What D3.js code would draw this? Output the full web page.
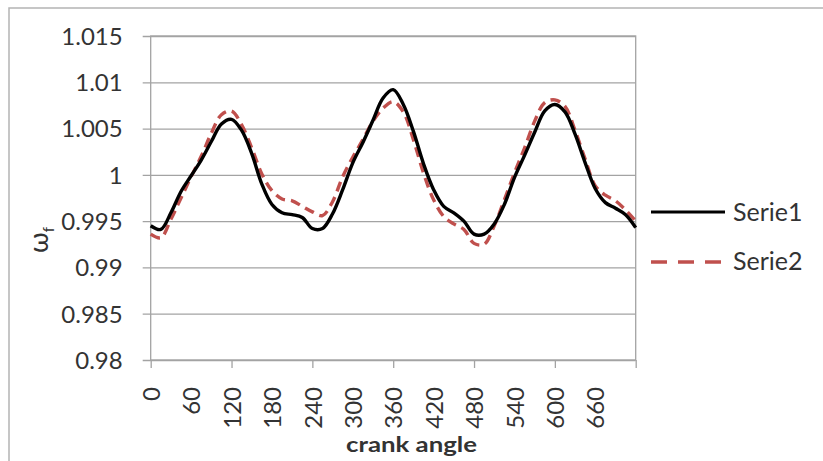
<!DOCTYPE html>
<html>
<head>
<meta charset="utf-8">
<script src="https://cdn.jsdelivr.net/npm/d3@7"></script>
<style>
  html, body { margin: 0; padding: 0; background: #fff; }
  svg { display: block; }
  text { font-family: Lato, "Open Sans", sans-serif; fill: #333; }
</style>
</head>
<body>
<svg id="chart" width="823" height="461"></svg>
<script>
// ---- data ----
const angles = [0,15,30,45,60,75,90,105,120,135,150,165,180,195,210,225,240,255,270,285,300,315,330,345,360,375,390,405,420,435,450,465,480,495,510,525,540,555,570,585,600,615,630,645,660,675,690,705,720];
const serie1 = [0.9945,0.9941,0.9959,0.9982,0.9999,1.0016,1.0036,1.0055,1.0060,1.0048,1.0023,0.9990,0.9968,0.9959,0.9957,0.9954,0.9942,0.9942,0.9958,0.9984,1.0013,1.0035,1.0059,1.0083,1.0092,1.0076,1.0047,1.0012,0.9984,0.9966,0.9959,0.9950,0.9936,0.9936,0.9947,0.9968,0.9997,1.0021,1.0046,1.0069,1.0076,1.0068,1.0044,1.0013,0.9985,0.9970,0.9964,0.9957,0.9943];
const serie2 = [0.9936,0.9932,0.9952,0.9975,0.9998,1.0020,1.0045,1.0065,1.0069,1.0054,1.0029,1.0001,0.9983,0.9974,0.9972,0.9966,0.9960,0.9956,0.9971,0.9998,1.0019,1.0038,1.0058,1.0072,1.0079,1.0068,1.0038,1.0002,0.9973,0.9955,0.9947,0.9941,0.9926,0.9925,0.9945,0.9973,1.0002,1.0029,1.0058,1.0078,1.0081,1.0074,1.0048,1.0017,0.9988,0.9978,0.9972,0.9962,0.9950];
const seriesNames = ["Serie1", "Serie2"];
const yTicks = [0.98, 0.985, 0.99, 0.995, 1, 1.005, 1.01, 1.015];
const yTickLabels = ["0.98", "0.985", "0.99", "0.995", "1", "1.005", "1.01", "1.015"];
const xLabelValues = [0,60,120,180,240,300,360,420,480,540,600,660];
const xGridValues = [0,120,240,360,480,600,720];
const xTitle = "crank angle";

// ---- layout ----
const svg = d3.select("#chart");
const L = 150.7, R = 635.7, T = 36, B = 360;
const x = d3.scaleLinear().domain([0, 720]).range([L, R]);
const y = d3.scaleLinear().domain([0.98, 1.015]).range([B, T]);
const gridColor = "#a3a3a3";

// outer chart border
svg.append("rect").attr("x", 9).attr("y", 8).attr("width", 840).attr("height", 480)
  .attr("fill", "none").attr("stroke", "#b4b4b4").attr("stroke-width", 1.5);

// horizontal grid + tick marks (y axis)
const yAxis = d3.axisLeft(y).tickValues(yTicks).tickSize(-(R - L))
  .tickFormat((d, i) => yTickLabels[i]).tickPadding(0);
const gy = svg.append("g").attr("transform", `translate(${L},0)`).call(yAxis);
gy.select(".domain").remove();
gy.selectAll(".tick line").attr("stroke", gridColor).attr("stroke-width", 1.3)
  .attr("x1", -8);
gy.selectAll(".tick text").attr("x", -28).attr("dy", "0.35em")
  .style("font-size", "24px").attr("fill", "#333");

// vertical grid lines (every 120) extending below as tick marks
const xGrid = d3.axisBottom(x).tickValues(xGridValues).tickSize(-(B - T)).tickFormat("");
const gxg = svg.append("g").attr("transform", `translate(0,${B})`).call(xGrid);
gxg.select(".domain").remove();
gxg.selectAll(".tick line").attr("stroke", gridColor).attr("stroke-width", 1.3).attr("y2", 8);

// x labels every 60, rotated
const xLab = d3.axisBottom(x).tickValues(xLabelValues).tickSize(0).tickFormat(d3.format("d"));
const gxl = svg.append("g").attr("transform", `translate(0,${B})`).call(xLab);
gxl.select(".domain").remove();
gxl.selectAll(".tick text")
  .attr("transform", "rotate(-90)")
  .attr("text-anchor", "end")
  .attr("x", -27).attr("y", 0).attr("dy", "0.36em")
  .style("font-size", "24px").attr("fill", "#333");

// plot border
svg.append("rect").attr("x", L).attr("y", T).attr("width", R - L).attr("height", B - T)
  .attr("fill", "none").attr("stroke", gridColor).attr("stroke-width", 1.3);

// lines
const line = d3.line().curve(d3.curveCatmullRom.alpha(0.5))
  .x((d, i) => x(angles[i])).y(d => y(d));
svg.append("path").datum(serie2).attr("d", line)
  .attr("fill", "none").attr("stroke", "#c0504d").attr("stroke-width", 3.4)
  .attr("stroke-dasharray", "10,6");
svg.append("path").datum(serie1).attr("d", line)
  .attr("fill", "none").attr("stroke", "#000").attr("stroke-width", 3.4)
  .attr("stroke-linejoin", "round");

// legend
const lg = svg.append("g");
lg.append("line").attr("x1", 651).attr("x2", 725).attr("y1", 212).attr("y2", 212)
  .attr("stroke", "#000").attr("stroke-width", 3);
lg.append("text").attr("x", 733).attr("y", 221).text(seriesNames[0])
  .style("font-size", "25px").attr("fill", "#333");
lg.append("line").attr("x1", 651).attr("x2", 724).attr("y1", 262).attr("y2", 262)
  .attr("stroke", "#c0504d").attr("stroke-width", 3.4).attr("stroke-dasharray", "16,11");
lg.append("text").attr("x", 733).attr("y", 270).text(seriesNames[1])
  .style("font-size", "25px").attr("fill", "#333");

// axis titles
svg.append("text").attr("x", 346).attr("y", 452).text(xTitle)
  .attr("textLength", 131).attr("lengthAdjust", "spacingAndGlyphs")
  .style("font-size", "21px").style("font-weight", "bold").attr("fill", "#111");

const yt = svg.append("text").attr("transform", "translate(48,240) rotate(-90)")
  .attr("text-anchor", "middle").attr("fill", "#222").style("font-size", "27px");
yt.append("tspan").text("ω");
yt.append("tspan").text("f").attr("dy", "6").style("font-size", "15px");
</script>
</body>
</html>
